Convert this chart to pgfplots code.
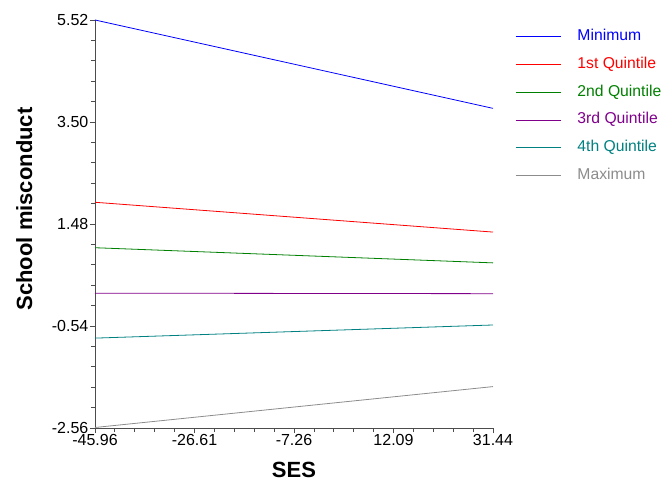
\documentclass[border=0pt]{standalone}
\usepackage{fontspec}
\setmainfont{Liberation Sans}
\usepackage{pgfplots}
\pgfplotsset{compat=1.18}
\definecolor{cmin}{RGB}{0,0,255}
\definecolor{cq1}{RGB}{255,0,0}
\definecolor{cq2}{RGB}{0,128,0}
\definecolor{cq3}{RGB}{128,0,140}
\definecolor{cq4}{RGB}{0,128,128}
\definecolor{cmax}{RGB}{140,140,140}
\begin{document}
\begin{tikzpicture}
\begin{axis}[
  scale only axis, width=398pt, height=408pt,
  xmin=-45.96, xmax=31.44, ymin=-2.56, ymax=5.52,
  axis x line=bottom, axis y line=left,
  axis line style={-, black!70, line width=0.9pt},
  xtick={-45.96,-26.61,-7.26,12.09,31.44},
  xticklabels={-45.96,-26.61,-7.26,12.09,31.44},
  ytick={-2.56,-0.54,1.48,3.50,5.52},
  yticklabels={-2.56,-0.54,1.48,3.50,5.52},
  minor tick num=4, tick align=outside,
  major tick length=5pt, minor tick length=4pt,
  every tick/.style={black!70, line width=0.8pt},
  ticklabel style={font=\fontsize{16}{16}\selectfont},
  xticklabel style={inner sep=1pt},
  yticklabel style={inner sep=1.5pt},
  xlabel={SES}, ylabel={School misconduct},
  label style={font=\bfseries\fontsize{22}{22}\selectfont, inner sep=0pt},
  xlabel style={at={(axis description cs:0.5,-0.103)}, anchor=center},
  ylabel style={at={(axis description cs:-0.178,0.537)}, anchor=center},
  clip=false,
  legend cell align=left,
  legend style={draw=none, fill=none, at={(axis description cs:1.055,0.977)}, anchor=north west,
    inner sep=0pt, font=\fontsize{15.7}{15.7}\selectfont, row sep=13.8pt,
    nodes={text height=11pt, text depth=3pt, inner ysep=0pt, inner xsep=0pt},
    /tikz/every odd column/.append style={column sep=16.5pt}},
  legend image code/.code={\draw[#1, line width=0.9pt] (0pt,0pt) -- (45pt,0pt);},
]
\addplot[cmin, line width=0.8pt] coordinates {(-45.96,5.52) (31.44,3.77)};
\addlegendentry{\textcolor{cmin}{Minimum}}
\addplot[cq1, line width=0.8pt] coordinates {(-45.96,1.91) (31.44,1.32)};
\addlegendentry{\textcolor{cq1}{1st Quintile}}
\addplot[cq2, line width=0.8pt] coordinates {(-45.96,1.01) (31.44,0.71)};
\addlegendentry{\textcolor{cq2}{2nd Quintile}}
\addplot[cq3, line width=0.8pt] coordinates {(-45.96,0.11) (31.44,0.10)};
\addlegendentry{\textcolor{cq3}{3rd Quintile}}
\addplot[cq4, line width=0.8pt] coordinates {(-45.96,-0.78) (31.44,-0.52)};
\addlegendentry{\textcolor{cq4}{4th Quintile}}
\addplot[cmax, line width=0.8pt] coordinates {(-45.96,-2.55) (31.44,-1.74)};
\addlegendentry{\textcolor{cmax}{Maximum}}
\coordinate (O) at (rel axis cs:0,0);
\end{axis}
\pgfresetboundingbox
\path (O) ++(-95pt,-53pt) rectangle ++(663pt,481pt);
\end{tikzpicture}
\end{document}
